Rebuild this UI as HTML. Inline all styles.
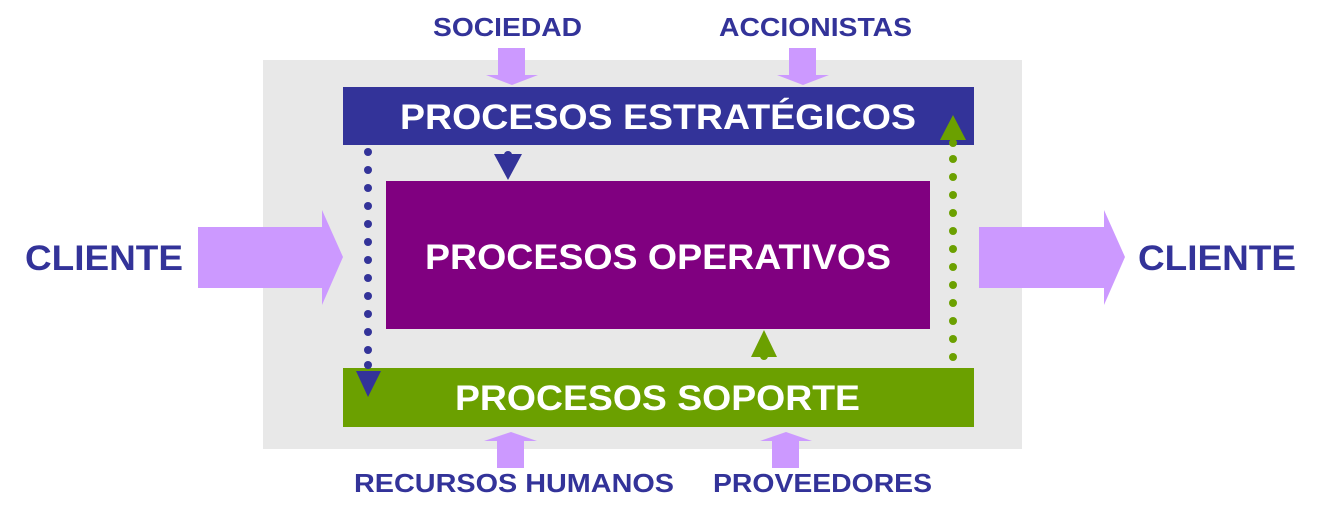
<!DOCTYPE html>
<html><head><meta charset="utf-8"><style>
body{margin:0;width:1320px;height:518px;background:#fff;overflow:hidden;font-family:"Liberation Sans",Arial,sans-serif}
svg{display:block}
</style></head><body>
<svg width="1320" height="518" viewBox="0 0 1320 518">
<rect x="263" y="60" width="759" height="389" fill="#e8e8e8"/>
<rect x="343" y="87" width="631" height="58" fill="#333399"/>
<rect x="386" y="181" width="544" height="148" fill="#800080"/>
<rect x="343" y="368" width="631" height="59" fill="#6ba000"/>
<g font-weight="bold" fill="#fff" lengthAdjust="spacingAndGlyphs">
<text x="400" y="129" font-size="35" textLength="516" lengthAdjust="spacingAndGlyphs">PROCESOS ESTRATÉGICOS</text>
<text x="425" y="269" font-size="35" textLength="466" lengthAdjust="spacingAndGlyphs">PROCESOS OPERATIVOS</text>
<text x="455" y="410" font-size="35" textLength="405" lengthAdjust="spacingAndGlyphs">PROCESOS SOPORTE</text>
</g>
<g font-weight="bold" fill="#333399">
<text x="433" y="36" font-size="26" textLength="149" lengthAdjust="spacingAndGlyphs">SOCIEDAD</text>
<text x="719" y="36" font-size="26" textLength="193" lengthAdjust="spacingAndGlyphs">ACCIONISTAS</text>
<text x="354" y="492" font-size="26" textLength="320" lengthAdjust="spacingAndGlyphs">RECURSOS HUMANOS</text>
<text x="713" y="492" font-size="26" textLength="219" lengthAdjust="spacingAndGlyphs">PROVEEDORES</text>
<text x="25" y="270" font-size="35" textLength="158" lengthAdjust="spacingAndGlyphs">CLIENTE</text>
<text x="1138" y="270" font-size="35" textLength="158" lengthAdjust="spacingAndGlyphs">CLIENTE</text>
</g>
<g fill="#cc99ff">
<polygon points="198,227 322,227 322,210 343,257 322,305 322,288 198,288"/>
<polygon points="979,227 1104,227 1104,210 1125,257 1104,305 1104,288 979,288"/>
<polygon points="498,48 525,48 525,75 538,75 512,85 486,75 498,75"/>
<polygon points="789,48 816,48 816,75 829,75 803,85 777,75 789,75"/>
<polygon points="497,468 524,468 524,441 537,441 511,432 484,441 497,441"/>
<polygon points="772,468 799,468 799,441 812,441 786,432 760,441 772,441"/>
</g>
<g fill="#333399">
<circle cx="368" cy="152" r="4"/><circle cx="368" cy="170" r="4"/><circle cx="368" cy="188" r="4"/><circle cx="368" cy="206" r="4"/><circle cx="368" cy="224" r="4"/><circle cx="368" cy="242" r="4"/><circle cx="368" cy="260" r="4"/><circle cx="368" cy="278" r="4"/><circle cx="368" cy="296" r="4"/><circle cx="368" cy="314" r="4"/><circle cx="368" cy="332" r="4"/><circle cx="368" cy="350" r="4"/><circle cx="368" cy="365" r="4"/>
<polygon points="356,371 381,371 368,397"/>
<circle cx="508" cy="155" r="4"/>
<polygon points="494,154 522,154 508,180"/>
</g>
<g fill="#6ba000">
<circle cx="953" cy="357" r="4"/><circle cx="953" cy="339" r="4"/><circle cx="953" cy="321" r="4"/><circle cx="953" cy="303" r="4"/><circle cx="953" cy="285" r="4"/><circle cx="953" cy="267" r="4"/><circle cx="953" cy="249" r="4"/><circle cx="953" cy="231" r="4"/><circle cx="953" cy="213" r="4"/><circle cx="953" cy="195" r="4"/><circle cx="953" cy="177" r="4"/><circle cx="953" cy="159" r="4"/><circle cx="953" cy="143" r="4"/>
<polygon points="940,140 966,140 953,115"/>
<circle cx="764" cy="356" r="4"/>
<polygon points="751,357 777,357 764,330"/>
</g>
</svg>
</body></html>
